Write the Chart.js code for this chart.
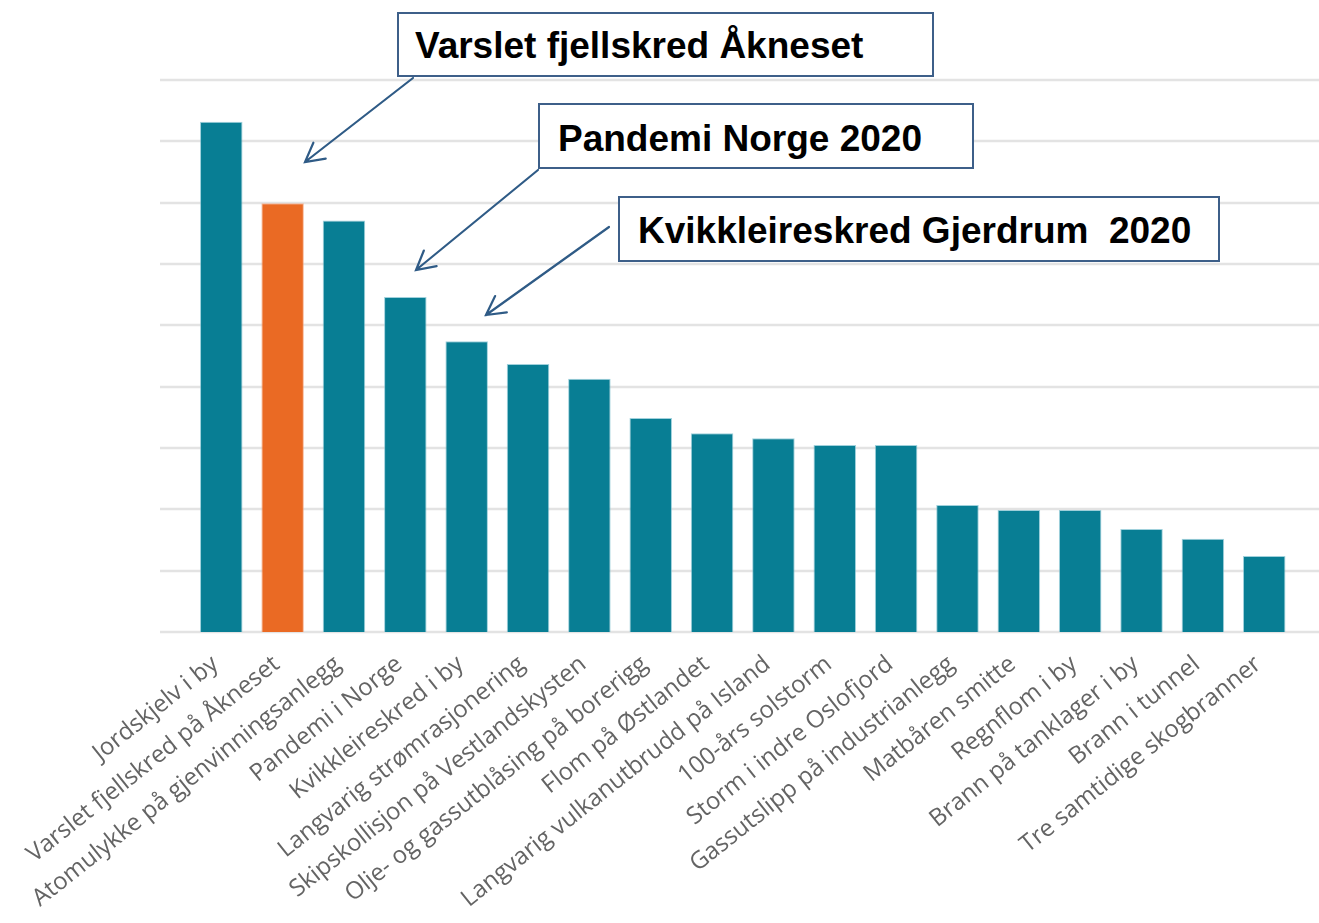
<!DOCTYPE html>
<html><head><meta charset="utf-8">
<script src="https://cdn.jsdelivr.net/npm/chart.js@4.4.1/dist/chart.umd.min.js"></script>
<style>
html,body{margin:0;padding:0;background:#fff;}
#wrap{position:relative;width:1319px;height:923px;overflow:hidden;}
#c{position:absolute;left:0;top:0;}
.note{position:absolute;box-sizing:border-box;border:2px solid #3d5f89;background:#fff;
  font-family:"Liberation Sans",Arial,sans-serif;font-weight:bold;font-size:37px;color:#000;
  white-space:pre;line-height:37px;}
</style></head><body>
<div id="wrap"><canvas id="c" width="1319" height="923"></canvas></div>
<script>
// ---- data ----
const categories = [
  'Jordskjelv i by',
  'Varslet fjellskred på Åkneset',
  'Atomulykke på gjenvinningsanlegg',
  'Pandemi i Norge',
  'Kvikkleireskred i by',
  'Langvarig strømrasjonering',
  'Skipskollisjon på Vestlandskysten',
  'Olje- og gassutblåsing på borerigg',
  'Flom på Østlandet',
  'Langvarig vulkanutbrudd på Island',
  '100-års solstorm',
  'Storm i indre Oslofjord',
  'Gassutslipp på industrianlegg',
  'Matbåren smitte',
  'Regnflom i by',
  'Brann på tanklager i by',
  'Brann i tunnel',
  'Tre samtidige skogbranner'
];
const values = [8.32, 6.99, 6.71, 5.46, 4.74, 4.37, 4.13, 3.49, 3.24, 3.16, 3.05, 3.05, 2.07, 1.99, 1.99, 1.68, 1.52, 1.24];
const highlighted = ['Varslet fjellskred på Åkneset'];
const yTicks = [0, 1, 2, 3, 4, 5, 6, 7, 8, 9];

const noteTexts = ['Varslet fjellskred Åkneset', 'Pandemi Norge 2020', 'Kvikkleireskred Gjerdrum  2020'];

// ---- styling / layout ----
const TEAL = '#087e94', ORANGE = '#ea6a24';
const GRID_LEFT = 160;
const notesLayout = [
  {box:[397, 12, 537, 65], pad:[16, 13], from:[413, 78], to:[305, 162]},
  {box:[538, 103, 436, 66], pad:[18, 15], from:[538, 170], to:[416, 270]},
  {box:[618, 196, 602, 66], pad:[18, 14], from:[609, 227], to:[486, 315]}
];

const wrap = document.getElementById('wrap');
noteTexts.forEach((t, i) => {
  const L = notesLayout[i];
  const d = document.createElement('div');
  d.className = 'note';
  d.textContent = t;
  d.style.left = L.box[0] + 'px';
  d.style.top = L.box[1] + 'px';
  d.style.width = L.box[2] + 'px';
  d.style.height = L.box[3] + 'px';
  d.style.paddingLeft = L.pad[0] + 'px';
  d.style.paddingTop = L.pad[1] + 'px';
  wrap.appendChild(d);
});

const gridPlugin = {
  id: 'fullGrid',
  beforeDatasetsDraw(chart) {
    const y = chart.scales.y, ctx = chart.ctx;
    ctx.save();
    ctx.strokeStyle = '#e3e3e3';
    ctx.lineWidth = 2.5;
    for (const v of yTicks) {
      const py = Math.round(y.getPixelForValue(v));
      ctx.beginPath();
      ctx.moveTo(GRID_LEFT, py);
      ctx.lineTo(chart.width, py);
      ctx.stroke();
    }
    ctx.restore();
  }
};

const arrowPlugin = {
  id: 'arrows',
  afterDraw(chart) {
    const ctx = chart.ctx;
    ctx.save();
    ctx.strokeStyle = '#2f5b86';
    ctx.lineWidth = 2.2;
    ctx.lineCap = 'round';
    for (const L of notesLayout) {
      const [x1, y1] = L.from, [x2, y2] = L.to;
      ctx.beginPath();
      ctx.moveTo(x1, y1);
      ctx.lineTo(x2, y2);
      const ang = Math.atan2(y1 - y2, x1 - x2);
      const len = 21, spread = 0.5;
      ctx.moveTo(x2 + len * Math.cos(ang + spread), y2 + len * Math.sin(ang + spread));
      ctx.lineTo(x2, y2);
      ctx.lineTo(x2 + len * Math.cos(ang - spread), y2 + len * Math.sin(ang - spread));
      ctx.stroke();
    }
    ctx.restore();
  }
};

new Chart(document.getElementById('c'), {
  type: 'bar',
  data: {
    labels: categories,
    datasets: [{
      data: values,
      backgroundColor: categories.map(c => highlighted.includes(c) ? ORANGE : TEAL),
      borderColor: categories.map(c => highlighted.includes(c) ? 'rgba(245,160,120,0.7)' : 'rgba(120,190,205,0.7)'),
      borderWidth: 1,
      barPercentage: 0.693,
      categoryPercentage: 1
    }]
  },
  options: {
    responsive: false,
    animation: false,
    devicePixelRatio: 1,
    layout: { padding: { left: 190.6, right: 24.1, top: 80, bottom: 0 } },
    plugins: { legend: { display: false }, tooltip: { enabled: false } },
    scales: {
      x: {
        grid: { display: false, drawTicks: false },
        border: { display: false },
        ticks: {
          autoSkip: false,
          minRotation: 38.5,
          maxRotation: 38.5,
          padding: 18,
          labelOffset: -6,
          color: '#646464',
          font: { family: "'Open Sans', 'DejaVu Sans', sans-serif", size: 24 }
        },
        afterFit(s) { s.height = 923 - 632; }
      },
      y: {
        display: false,
        min: 0,
        max: 9,
        ticks: { stepSize: 1 }
      }
    }
  },
  plugins: [gridPlugin, arrowPlugin]
});
</script>
</body></html>
